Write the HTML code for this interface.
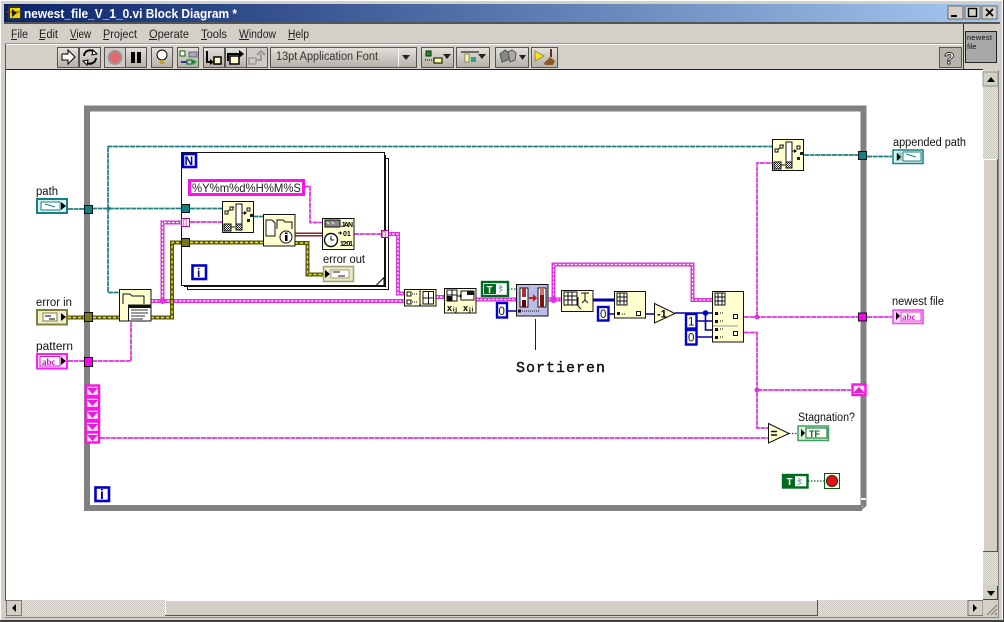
<!DOCTYPE html>
<html><head><meta charset="utf-8"><title>newest_file_V_1_0.vi Block Diagram</title>
<style>
html,body{margin:0;padding:0;background:#d4d0c8;width:1004px;height:622px;overflow:hidden}
svg{display:block}
text{font-family:"Liberation Sans",sans-serif;fill:#000}
.lbl{font-size:11.5px;fill:#111}
.m{font-size:11.5px;fill:#222}
.str{fill:none;stroke:#e030e0;stroke-width:1.7;stroke-dasharray:5 .6}
.strT{fill:none;stroke:#e030e0;stroke-width:4}
.strI{fill:none;stroke:#fff;stroke-width:1.2;stroke-dasharray:2.5 1.5}
.path{fill:none;stroke:#1f7f7f;stroke-width:1.7;stroke-dasharray:5 .6}
.errO{fill:none;stroke:#55550f;stroke-width:4}
.errI{fill:none;stroke:#e8e820;stroke-width:1.4;stroke-dasharray:3 2}
.blue{fill:none;stroke:#0000a8;stroke-width:1.6}
.blueT{fill:none;stroke:#0000a8;stroke-width:3}
.grn{fill:none;stroke:#006a20;stroke-width:1.2;stroke-dasharray:1.5 1.5}
.ic{fill:#ffffd0;stroke:#111;stroke-width:1}
.b{fill:#d4d0c8;stroke:#555;stroke-width:1}
.d{fill:none;stroke:#111;stroke-width:1}
.n{fill:#fff;stroke:#0000c8;stroke-width:2.6}
.nt{font-size:14px;fill:#0000a0}
</style></head><body>
<svg width="1004" height="622" viewBox="0 0 1004 622" xmlns="http://www.w3.org/2000/svg">
<defs>
<linearGradient id="tb" x1="0" x2="1" y1="0" y2="0"><stop offset="0" stop-color="#0a246a"/><stop offset="1" stop-color="#a6caf0"/></linearGradient>
<linearGradient id="btn" x1="0" x2="0" y1="0" y2="1"><stop offset="0" stop-color="#e4e1da"/><stop offset="1" stop-color="#b4b0a8"/></linearGradient>
<pattern id="chk" width="2" height="2" patternUnits="userSpaceOnUse"><rect width="2" height="2" fill="#eceae6"/><rect width="1" height="1" fill="#c4c1ba"/><rect x="1" y="1" width="1" height="1" fill="#c4c1ba"/></pattern>
<pattern id="chk2" width="2" height="2" patternUnits="userSpaceOnUse"><rect width="2" height="2" fill="#fff"/><rect width="1" height="1" fill="#222"/><rect x="1" y="1" width="1" height="1" fill="#222"/></pattern>
</defs>
<!-- window -->
<rect width="1004" height="622" fill="#d4d0c8"/>
<rect x="0.5" y="0.5" width="1002" height="620" fill="none" stroke="#fff" stroke-width="1"/>
<rect x="1003" width="1" height="622" fill="#404040"/><rect y="620" width="1004" height="2" fill="#404040"/>
<rect x="4" y="4" width="996" height="18" fill="url(#tb)"/>
<rect x="4" y="22" width="996" height="2" fill="#555"/>
<rect x="8" y="6" width="13" height="14" fill="#333"/><rect x="10" y="8" width="10" height="10" fill="#e8d800"/><path d="M6 12H22" stroke="#a03020"/><path d="M12 9l5 4-5 4z" fill="#222"/>
<text x="24" y="18" font-size="13" font-weight="700" style="fill:#fff" textLength="213" lengthAdjust="spacingAndGlyphs">newest_file_V_1_0.vi Block Diagram *</text>
<g><rect x="948" y="6" width="15" height="13" fill="#d4d0c8" stroke="#444" stroke-width=".7"/><rect x="951" y="15" width="6" height="2" fill="#000"/>
<rect x="965" y="6" width="15" height="13" fill="#d4d0c8" stroke="#444" stroke-width=".7"/><rect x="968.5" y="8.5" width="8" height="8" fill="none" stroke="#000" stroke-width="1.4"/>
<rect x="982" y="6" width="15" height="13" fill="#d4d0c8" stroke="#444" stroke-width=".7"/><path d="M986 9l7 7M993 9l-7 7" stroke="#000" stroke-width="1.7"/></g>
<!-- menu -->
<text class="m" x="11" y="38" textLength="17" lengthAdjust="spacingAndGlyphs">File</text>
<text class="m" x="39" y="38" textLength="19" lengthAdjust="spacingAndGlyphs">Edit</text>
<text class="m" x="70" y="38" textLength="21" lengthAdjust="spacingAndGlyphs">View</text>
<text class="m" x="103" y="38" textLength="34" lengthAdjust="spacingAndGlyphs">Project</text>
<text class="m" x="149" y="38" textLength="40" lengthAdjust="spacingAndGlyphs">Operate</text>
<text class="m" x="201" y="38" textLength="26" lengthAdjust="spacingAndGlyphs">Tools</text>
<text class="m" x="239" y="38" textLength="37" lengthAdjust="spacingAndGlyphs">Window</text>
<text class="m" x="288" y="38" textLength="21" lengthAdjust="spacingAndGlyphs">Help</text>
<path d="M11 39.500h6M39 39.500h6M70 39.500h7M103 39.500h6M149 39.500h8M201 39.500h6M239 39.500h10M288 39.500h7" stroke="#222"/>
<path d="M5 44.5H963" stroke="#fff"/><path d="M5 43.5H963" stroke="#999"/>
<!-- toolbar -->
<g>
<rect x="57.5" y="47.5" width="21" height="20" class="b" style="fill:url(#btn)"/>
<path d="M62 54h6v-4l7 7-7 7v-4h-6z" fill="#fff" stroke="#000"/>
<rect x="79.5" y="47.5" width="21" height="20" class="b" style="fill:url(#btn)"/>
<path d="M84 56a6 6 0 0 1 11-3M96 58a6 6 0 0 1-11 3" fill="none" stroke="#000" stroke-width="2"/><path d="M93 50l4 4-5 1zM87 65l-4-4 5-1z" fill="#fff" stroke="#000"/>
<rect x="104.5" y="47.5" width="21" height="20" class="b" style="fill:#cfcbc3"/>
<circle cx="115" cy="57.500" r="6.500" fill="#e06a70" stroke="#999" stroke-width="2"/>
<rect x="125.500" y="47.500" width="21" height="20" class="b" style="fill:url(#btn)"/>
<rect x="131" y="52" width="4" height="11" fill="#000"/><rect x="137" y="52" width="4" height="11" fill="#000"/>
<rect x="151.500" y="47.500" width="21" height="20" class="b" style="fill:url(#btn)"/>
<circle cx="162" cy="55" r="5" fill="#fff" stroke="#000"/><rect x="160" y="60" width="4" height="4" fill="#c8a020"/>
<rect x="177.500" y="47.500" width="21" height="20" class="b" style="fill:url(#btn)"/>
<rect x="180" y="51" width="5" height="5" fill="#fff" stroke="#060"/><rect x="189" y="52" width="8" height="5" fill="#aab" stroke="#667"/><path d="M181 62h14" stroke="#00a" stroke-width="1.500"/><rect x="187" y="60" width="5" height="4" fill="#bcc" stroke="#060"/><path d="M193 59l4 3-4 3z" fill="#1a1"/>
<rect x="203.500" y="47.500" width="21" height="20" class="b" style="fill:url(#btn)"/>
<path d="M207 51v11h5" fill="none" stroke="#000" stroke-width="2"/><path d="M210 59l4 3-4 3z"/><rect x="214" y="57" width="7" height="7" fill="#ffffd0" stroke="#000" stroke-width="1.500"/>
<rect x="225.500" y="47.500" width="21" height="20" class="b" style="fill:url(#btn)"/>
<path d="M228 61v-7h13" fill="none" stroke="#000" stroke-width="2"/><path d="M239 50l5 4-5 4z"/><rect x="230" y="56" width="9" height="8" fill="#ffffd0" stroke="#000" stroke-width="1.500"/>
<rect x="246.500" y="47.500" width="21" height="20" class="b" style="fill:#cfcbc3"/>
<rect x="249" y="58" width="7" height="6" fill="none" stroke="#999" stroke-width="1.500"/><path d="M256 60h5v-6M257 55l4-4 4 4" fill="none" stroke="#999" stroke-width="2"/>
<rect x="270.500" y="47.500" width="146" height="20" class="b" style="fill:url(#btn)"/>
<text x="276" y="60" font-size="11.500" style="fill:#333" textLength="102" lengthAdjust="spacingAndGlyphs">13pt Application Font</text>
<path d="M398.500 49v17" stroke="#fff"/><path d="M402 55h8l-4 5z" fill="#222"/>
<rect x="421.500" y="47.500" width="32" height="20" class="b" style="fill:url(#btn)"/>
<rect x="426" y="51" width="5" height="5" fill="#2a8a3a" stroke="#030"/><path d="M425 60h10" stroke="#000" stroke-dasharray="1 1"/><rect x="434" y="58" width="8" height="5" fill="#ffff90" stroke="#000"/><path d="M443 54h8l-4 5z" fill="#222"/>
<rect x="456.500" y="47.500" width="33" height="20" class="b" style="fill:url(#btn)"/>
<path d="M461 52h18" stroke="#000"/><rect x="465" y="54" width="4" height="8" fill="#ff9" stroke="#333" stroke-width=".5"/><rect x="471" y="57" width="5" height="5" fill="#2a8"/><path d="M478 54h8l-4 5z" fill="#222"/>
<rect x="495.500" y="47.500" width="33" height="20" class="b" style="fill:url(#btn)"/>
<path d="M500 54l5-4 5 3-2 7-6 2z" fill="#888" stroke="#555"/><path d="M508 52l4-2 4 3-1 7-5 2z" fill="#aaa" stroke="#555"/><path d="M519 55h7l-3.500 5z" fill="#222"/>
<rect x="531.500" y="47.500" width="26" height="20" class="b" style="fill:url(#btn)"/>
<path d="M535 51l9 5-9 5z" fill="#ffe800" stroke="#886"/><path d="M551 49v8" stroke="#532" stroke-width="2"/><path d="M544 63l6-6 5 4-2 4h-8z" fill="#8a5a2a"/>
<rect x="939.500" y="47.500" width="22" height="20" class="b" style="fill:#b8b4ac"/>
<text x="944" y="64" font-size="17" font-weight="700" style="fill:#fff;stroke:#000;stroke-width:.7">?</text>
</g>
<path d="M963.500 24V70" stroke="#333"/>
<rect x="965.500" y="31.500" width="31" height="31" fill="#a8a8a8" stroke="#222"/>
<text x="967" y="40" font-size="7.500" style="fill:#111" textLength="25">newest</text>
<text x="967" y="49" font-size="7.500" style="fill:#111">file</text>
<path d="M5 69.500H963M963 69.500H983" stroke="#222"/>
<!-- canvas -->
<rect x="6" y="70" width="977" height="530" fill="#fff"/>
<path d="M5.500 44V601" stroke="#555"/>
<!-- scrollbars -->
<rect x="983" y="70" width="15" height="530" fill="url(#chk)"/>
<rect x="983" y="72" width="15" height="14" fill="#d4d0c8" stroke="#666" stroke-width=".6"/><path d="M987 82h8l-4-5z" fill="#000"/>
<rect x="983" y="159" width="15" height="393" fill="#d4d0c8"/><path d="M983.500 552V159.500H997" stroke="#fff" fill="none"/><path d="M983 551.500H997.500V159" stroke="#555" fill="none"/>
<rect x="983" y="585.500" width="15" height="14.500" fill="#d4d0c8"/><path d="M983 599.500H997.500V586" stroke="#444" fill="none"/><path d="M987 591h8l-4 5z" fill="#000"/>
<rect x="6" y="600" width="992" height="16" fill="url(#chk)"/>
<rect x="6.500" y="600.500" width="15" height="15" fill="#d4d0c8" stroke="#555" stroke-width=".7"/><path d="M16 604v8l-4-4z" fill="#000"/>
<rect x="165" y="600" width="653" height="16" fill="#d4d0c8"/><path d="M165.500 616V600.500H818" stroke="#fff" fill="none"/><path d="M165 615.500H817.500V600" stroke="#555" fill="none"/>
<rect x="968" y="600.500" width="15" height="15" fill="#d4d0c8" stroke="#555" stroke-width=".7"/><path d="M973 604v8l4-4z" fill="#000"/>
<rect x="983" y="600" width="15" height="16" fill="#d4d0c8"/><path d="M987 615l10-10M991 615l6-6M995 615l2-2" stroke="#777"/>
<path d="M5 617.500H999" stroke="#888"/><path d="M998.500 70V618" stroke="#888"/>

<!-- While loop -->
<rect x="87" y="108.500" width="776.500" height="399.500" fill="none" stroke="#808080" stroke-width="6"/>
<rect x="861" y="498" width="5" height="2" fill="#fff"/><rect x="862" y="506" width="6" height="6" fill="#fff"/><path d="M860 510l6-5" stroke="#808080" stroke-width="2"/>

<!-- For loop -->
<rect x="187.500" y="158.500" width="201" height="131" fill="#fff" stroke="#111"/>
<rect x="184.500" y="155.500" width="201" height="131" fill="#fff" stroke="#111"/>
<rect x="181.500" y="152.500" width="203" height="133" fill="#fff" stroke="#111"/>
<path d="M376 285.500l8-8v8z" fill="#fff" stroke="#111"/>

<!-- teal wires -->
<path class="path" d="M68 209H84M92 208.500H185M108 208.500V146.500H772M108 208.500V292.500H119"/>
<path class="path" d="M190 208.500H222M253 216.500H263M804 155H858M867 156.500H892"/>
<circle cx="108.500" cy="208.500" r="2" fill="#1f7f7f"/>

<!-- thick string wires -->
<path class="strT" d="M151 301H404M162.500 301V222.500H181M388 234H398V293.500H404M436 297H444M476 299.500H516M548 299.500H561M553.500 299.500V264.500H692.500V300H712"/>
<path class="strI" d="M151 301H404M162.500 301V222.500H181M388 234H398V293.500H404M436 297H444M476 299.500H516M548 299.500H561M553.500 299.500V264.500H692.500V300H712"/>
<circle cx="553.500" cy="299.500" r="3.500" fill="#e030e0"/>
<circle cx="162.500" cy="301" r="3" fill="#e030e0"/>
<!-- thin string wires -->
<path class="str" d="M68 361H84M92 361H131V321M190 222H222M304 186.500H310V222.500H322M354 234H381"/>
<path class="str" d="M744 317H858M867 317H892M757 317V163H772M744 332.500H757V428H768M757 390H851M100 438H768"/>
<circle cx="757" cy="317" r="2.500" fill="#e030e0"/><circle cx="757" cy="390" r="2.500" fill="#e030e0"/>

<!-- error wires -->
<path class="errO" d="M68 317.500H119M151 317.500H172V242.500H181M190 242.500H263M295 243H307.500V274.500H323"/>
<path class="errI" d="M68 317.500H119M151 317.500H172V242.500H181M190 242.500H263M295 243H307.500V274.500H323"/>
<!-- red cluster wire -->
<path d="M295 234.500H322" stroke="#8a1010" stroke-width="4"/><path d="M295 234.500H322" stroke="#fff" stroke-width="1.200"/>
<!-- blue wires -->
<path class="blue" d="M507 311H516M609 314H614M646 314H654M675 313H712M705.500 313V330H712M697 321H712M697 337H712"/>
<path class="blueT" d="M593 300H614"/>
<circle cx="705.500" cy="313" r="2.800" fill="#0000c0"/>
<!-- green wires -->
<path class="grn" d="M508 289H516M789 433.500H797M808 481H824"/>

<!-- Tunnels -->
<rect x="84.500" y="205.500" width="8" height="8" fill="#128080" stroke="#111"/>
<rect x="84.500" y="312.500" width="8" height="9" fill="#77771a" stroke="#111"/>
<rect x="84.500" y="357.500" width="8" height="9" fill="#ff00f0" stroke="#111"/>
<rect x="181.500" y="204.500" width="8" height="8" fill="#128080" stroke="#111"/>
<rect x="181.500" y="218.500" width="8" height="8" fill="#fff0ff" stroke="#a01090"/><text x="183" y="225" font-size="7" style="fill:#a01090">[]</text>
<rect x="181.500" y="238.500" width="8" height="8" fill="#77771a" stroke="#111"/>
<rect x="381.500" y="230.500" width="7" height="7" fill="#fff0ff" stroke="#a01090"/><text x="382" y="236.500" font-size="7" style="fill:#a01090">[]</text>
<rect x="858.500" y="151.500" width="8" height="8" fill="#128080" stroke="#111"/>
<rect x="858.500" y="313" width="8" height="8" fill="#ff00f0" stroke="#111"/>

<!-- Shift registers -->
<g fill="#ffe8ff" stroke="#ff10e8" stroke-width="2.400">
<rect x="86" y="385.500" width="13" height="10.500"/><rect x="86" y="397.500" width="13" height="10.500"/><rect x="86" y="409.500" width="13" height="10.500"/><rect x="86" y="421.500" width="13" height="10.500"/><rect x="86" y="432.500" width="13" height="10"/>
</g>
<g fill="#e020d8"><path d="M87 388h11l-5.500 6zM87 400h11l-5.500 6zM87 412h11l-5.500 6zM87 424h11l-5.500 6zM87 435h11l-5.500 6z"/></g>
<rect x="852.500" y="384.500" width="13" height="10.500" fill="#ffe8ff" stroke="#ff10e8" stroke-width="2.400"/>
<path d="M853 393h12l-6-6z" fill="#e020d8"/>

<!-- i / N boxes -->
<rect x="95.500" y="487.500" width="13.500" height="13.500" class="n"/><text class="nt" x="100" y="499" font-weight="700" font-size="12">i</text>
<rect x="183" y="154" width="13" height="13" class="n"/><text x="184.500" y="165" font-size="12" font-weight="700" style="fill:#0000a0">N</text>
<rect x="192.500" y="265.500" width="13.500" height="13.500" class="n"/><text x="197" y="277" font-size="12" font-weight="700" style="fill:#0000a0">i</text>

<!-- Labels -->
<text class="lbl" x="36" y="195" textLength="22" lengthAdjust="spacingAndGlyphs">path</text>
<text class="lbl" x="36" y="306" textLength="36" lengthAdjust="spacingAndGlyphs">error in</text>
<text class="lbl" x="36" y="350" textLength="37" lengthAdjust="spacingAndGlyphs">pattern</text>
<text class="lbl" x="323" y="263" textLength="42" lengthAdjust="spacingAndGlyphs">error out</text>
<text class="lbl" x="893" y="146" textLength="73" lengthAdjust="spacingAndGlyphs">appended path</text>
<text class="lbl" x="892" y="305" textLength="52" lengthAdjust="spacingAndGlyphs">newest file</text>
<text class="lbl" x="798" y="421" textLength="57" lengthAdjust="spacingAndGlyphs">Stagnation?</text>

<!-- Path control -->
<rect x="37" y="199" width="30" height="14" fill="#d8f0f0" stroke="#188080" stroke-width="2"/><rect x="41" y="202" width="19" height="8" fill="#fff" stroke="#188080"/><path d="M45 204l10 3" stroke="#188080"/><path d="M61 202l5 4-5 4z" fill="#000"/>
<!-- error in -->
<rect x="37" y="310" width="30" height="14.500" fill="#f0f0d0" stroke="#80803a" stroke-width="2"/><rect x="43" y="313" width="14" height="8" fill="#fff" stroke="#808030"/><path d="M45 316h6M49 319h6" stroke="#555" stroke-width="1.500"/><path d="M61 313l5 4-5 4z" fill="#000"/>
<!-- pattern -->
<rect x="37" y="354" width="30" height="14.500" fill="#ffe0ff" stroke="#ff20f0" stroke-width="2"/><rect x="40" y="356.500" width="20" height="9.500" fill="#fff" stroke="#d020d0"/><text x="42" y="365" font-size="9" font-weight="700" style="font-family:'Liberation Serif',serif;fill:#c010c0">abc</text><path d="M61 357l5 4-5 4z" fill="#000"/>
<!-- error out -->
<rect x="323.500" y="266.500" width="30" height="15" fill="#e8e8c8" stroke="#a0a070" stroke-width="1.500"/><path d="M325 270l5 4-5 4z" fill="#000"/><rect x="331" y="270" width="18" height="8" fill="#fff" stroke="#a0a070"/><path d="M333 272h7M338 276h7" stroke="#666" stroke-width="1.500"/>
<!-- appended path -->
<rect x="893" y="150" width="30" height="13.500" fill="#e0f4f4" stroke="#188080" stroke-width="1.500"/><rect x="896" y="152.500" width="6" height="8" fill="#98cccc"/><path d="M897 153l4 4-4 4z" fill="#000"/><rect x="903" y="152" width="18" height="9" fill="#fff" stroke="#188080"/><path d="M906 154l10 3" stroke="#188080"/>
<!-- newest file -->
<rect x="893" y="310" width="30" height="13.500" fill="#ffd0ff" stroke="#f040e0" stroke-width="1.500"/><path d="M896 312l4 4-4 4z" fill="#000"/><rect x="901" y="312" width="20" height="9" fill="#fff" stroke="#e030d8"/><text x="902" y="320" font-size="9" font-weight="700" style="font-family:'Liberation Serif',serif;fill:#d020d0">abc</text>
<!-- Stagnation indicator -->
<rect x="798" y="426" width="30.500" height="14.500" fill="#d8f0d8" stroke="#40a060" stroke-width="1.500"/><path d="M801 429l4 4-4 4z" fill="#000"/><rect x="806" y="428" width="21" height="10" fill="#fff" stroke="#006a20"/><text x="809" y="437" font-size="9" font-weight="700" style="fill:#006a20">TF</text>

<!-- String const -->
<rect x="189.500" y="180.500" width="114" height="14" fill="#fff" stroke="#ff10e8" stroke-width="3"/>
<text x="192" y="192" font-size="12" style="fill:#222" textLength="109" lengthAdjust="spacingAndGlyphs">%Y%m%d%H%M%S</text>

<!-- List folder -->
<rect x="119.500" y="289.500" width="31.500" height="31.500" class="ic"/>
<path d="M123 304v-10h7l2 2h12v8" fill="#ffffd0" stroke="#111"/>
<rect x="128.500" y="305" width="22.500" height="16" fill="#fff" stroke="#111"/><rect x="128.500" y="305" width="22.500" height="3" fill="#111"/><path d="M131 310h17M131 313h17M131 316h14M131 319h12" stroke="#333"/>

<!-- Build path left -->
<g id="bp"><rect x="222.500" y="201.500" width="31" height="31" class="ic"/>
<rect x="236" y="204" width="6" height="25" fill="#fff" stroke="#111"/>
<path d="M226 213l5-4 3-2" fill="none" stroke="#111"/><rect x="225" y="211" width="3" height="3" fill="#fff" stroke="#111"/><rect x="230" y="207" width="3" height="3" fill="#fff" stroke="#111"/>
<rect x="247" y="208" width="3" height="3" fill="#fff" stroke="#111"/><rect x="247" y="219" width="3" height="3" fill="#222"/><rect x="250" y="214" width="3" height="3" fill="#222"/>
<path d="M242 213h3" stroke="#111"/><path d="M244 211l3 2-3 2z"/>
<rect x="224" y="224" width="7" height="7" fill="url(#chk2)" stroke="#111"/><rect x="236" y="224" width="6" height="6" fill="url(#chk2)" stroke="#111"/><path d="M231 227h4" stroke="#111"/></g>
<!-- Build path right -->
<use href="#bp" x="550" y="-62"/>

<!-- File info -->
<rect x="263.500" y="214.500" width="31.500" height="31.500" class="ic"/>
<path d="M266 220h6l3 3v13h-9z" fill="#fff" stroke="#111"/><path d="M277 229v-9h6l2 2h7v7" fill="#ffffd0" stroke="#111"/>
<circle cx="286" cy="237" r="6" fill="#fff" stroke="#111"/><rect x="285" y="235" width="2.500" height="6" fill="#000"/><rect x="285" y="232.500" width="2.500" height="1.500" fill="#000"/>

<!-- Format date -->
<rect x="322.500" y="218.500" width="31.500" height="31" class="ic"/>
<rect x="325" y="220" width="15" height="7" fill="#888" stroke="#111"/><path d="M327 222l2 2M332 222l2 2" stroke="#fff"/>
<text x="341" y="227" font-size="7" font-weight="700" textLength="12">JAN</text>
<text x="343" y="236" font-size="7" font-weight="700">01</text>
<text x="340" y="246" font-size="7" font-weight="700" textLength="13">12:01</text>
<circle cx="331" cy="240" r="6.500" fill="#fff" stroke="#111" stroke-width="1.400"/><path d="M331 236v4h3" stroke="#111" fill="none"/>
<path d="M338 233h3" stroke="#111"/><path d="M340 231l2 2-2 2z"/>

<!-- Build array -->
<rect x="404.500" y="289.500" width="31.500" height="16.500" class="ic"/>
<rect x="407" y="292" width="4" height="4" fill="#fff" stroke="#111"/><rect x="407" y="300" width="4" height="4" fill="#fff" stroke="#111"/><path d="M412 294h6M412 302h6" stroke="#111" stroke-dasharray="1 1"/>
<path d="M421 291h-1v14h1" fill="none" stroke="#111"/><rect x="423" y="291.500" width="10.500" height="12.500" fill="#fff" stroke="#111"/><path d="M428.500 291.500v12.500M423 298h10.500" stroke="#111"/>
<!-- Transpose -->
<rect x="444.500" y="288.500" width="31.500" height="24.500" class="ic"/>
<rect x="447" y="290" width="10" height="11" fill="#fff" stroke="#111"/><rect x="447" y="296" width="5" height="5" fill="#111"/>
<path d="M452 290v11M447 295h10" stroke="#111"/>
<rect x="461" y="291" width="13" height="9" fill="#fff" stroke="#111"/><rect x="467" y="291" width="7" height="4" fill="#111"/><path d="M457 296h4" stroke="#111"/><path d="M460 294l2 2-2 2z"/>
<text x="447" y="311" font-size="9" font-weight="700" textLength="10">xᵢⱼ</text><text x="463" y="311" font-size="9" font-weight="700" textLength="10">xⱼᵢ</text>
<!-- T constant -->
<rect x="482" y="282" width="26" height="14" fill="#fff" stroke="#006a20" stroke-width="2.400"/><rect x="484" y="284" width="12" height="10" fill="#006a20"/><text x="486.500" y="293" font-size="10" font-weight="700" style="fill:#fff">T</text><path d="M499 285l3 2-3 1 3 2-3 2" stroke="#6a9" fill="none"/>
<!-- 0 const -->
<rect x="497" y="303" width="10" height="14.500" fill="#fff" stroke="#0000c8" stroke-width="2.400"/><text x="498.500" y="315" font-size="11.500" style="fill:#111">0</text>
<!-- Sort -->
<rect x="516.500" y="284.500" width="31.500" height="31.500" fill="#bcbce8" stroke="#111"/>
<rect x="520" y="288" width="8" height="19" fill="#fff" stroke="#111"/><rect x="522" y="288" width="4" height="9" fill="#a83030"/><rect x="522" y="300" width="4" height="7" fill="#600"/>
<rect x="538" y="288" width="8" height="19" fill="#fff" stroke="#111"/><rect x="540" y="288" width="4" height="7" fill="#c87070"/><rect x="540" y="295" width="4" height="12" fill="#801010"/>
<path d="M529 297h4v-3l4 4-4 4v-3h-4z" fill="#e01010"/>
<rect x="518" y="309.500" width="3" height="3" fill="#111"/><path d="M522 311H540" stroke="#111" stroke-dasharray="1 1"/>
<!-- Sortieren -->
<path d="M535.500 319V350" stroke="#222"/>
<text x="516" y="372" font-size="15" style="font-family:'Liberation Mono',monospace;fill:#111;stroke:#111;stroke-width:.4" textLength="89">Sortieren</text>
<!-- Array subset / size -->
<rect x="561.500" y="290.500" width="31.500" height="21" class="ic"/>
<rect x="564" y="292" width="13" height="13" fill="#fff" stroke="#111"/><path d="M568 292v13M572 292v13M564 296h13M564 300h13" stroke="#111"/>
<path d="M578 297v9l3 3M581 293h8M585 293v7l-3 3M585 300l3 3" fill="none" stroke="#111"/>
<!-- Index 1 -->
<rect x="614.500" y="291.500" width="31" height="26.500" class="ic"/>
<rect x="617" y="293" width="10" height="12" fill="#fff" stroke="#111"/><path d="M620 293v12M624 293v12M617 297h10M617 301h10" stroke="#111"/>
<rect x="617" y="312" width="3" height="3" fill="#111"/><path d="M622 314h3" stroke="#111" stroke-dasharray="1 1"/><rect x="636.500" y="311.500" width="4" height="4" fill="#fff" stroke="#111"/>
<!-- 0 const 2 -->
<rect x="598" y="307" width="10.500" height="13.500" fill="#fff" stroke="#0000c8" stroke-width="2.400"/><text x="600" y="318" font-size="11.500" style="fill:#111">0</text>
<!-- dec -->
<path d="M654.500 303.500L675 313.500 654.500 323z" fill="#ffffd0" stroke="#111"/>
<text x="657" y="317.500" font-size="11" font-weight="700">-1</text>
<!-- consts 1 0 -->
<rect x="686" y="314" width="10.500" height="14.500" fill="#fff" stroke="#0000c8" stroke-width="2.400"/><text x="688" y="325.500" font-size="11.500" style="fill:#111">1</text>
<rect x="686" y="330" width="10.500" height="14.500" fill="#fff" stroke="#0000c8" stroke-width="2.400"/><text x="688" y="341.500" font-size="11.500" style="fill:#111">0</text>
<!-- Index 2 -->
<rect x="712.500" y="291.500" width="31" height="50.500" class="ic"/>
<rect x="715" y="293" width="10" height="12" fill="#fff" stroke="#111"/><path d="M718 293v12M722 293v12M715 297h10M715 301h10" stroke="#111"/>
<g fill="#111"><rect x="715" y="312" width="3" height="3"/><rect x="715" y="320" width="3" height="3"/><rect x="715" y="328" width="3" height="3"/><rect x="715" y="336" width="3" height="3"/></g>
<path d="M720 313h3M720 321h3M720 329h3M720 337h3" stroke="#111" stroke-dasharray="1 1"/>
<path d="M713 326h25" stroke="#999"/>
<rect x="733.500" y="314.500" width="4" height="4" fill="#fff" stroke="#111"/><rect x="733.500" y="331.500" width="4" height="4" fill="#fff" stroke="#111"/>
<!-- eq -->
<path d="M768.500 423.500L789 433.500 768.500 443z" fill="#ffffd0" stroke="#111"/>
<path d="M771 431.500h6M771 435h6" stroke="#111" stroke-width="1.500"/>
<!-- T const / stop -->
<rect x="783" y="475" width="24.500" height="12.500" fill="#fff" stroke="#006a20" stroke-width="2.400"/><rect x="784" y="476" width="11" height="11" fill="#006a20"/><text x="786.500" y="485" font-size="10" font-weight="700" style="fill:#fff">T</text><path d="M798 478l3 2-3 1 3 2-3 2" stroke="#6a9" fill="none"/>
<rect x="824.500" y="473.500" width="15" height="15" fill="#ffffe0" stroke="#0a5a20"/><circle cx="832" cy="481" r="5.500" fill="#e81010" stroke="#222"/>
</svg>
</body></html>
